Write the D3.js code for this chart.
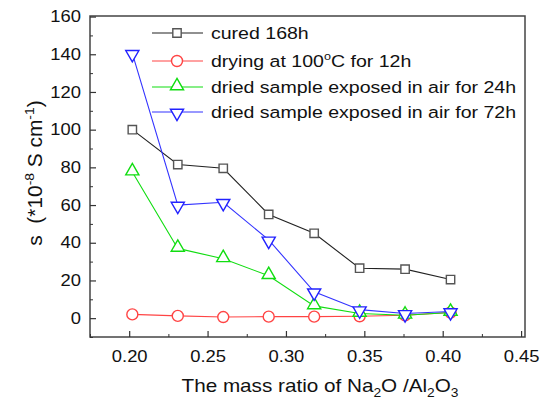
<!DOCTYPE html>
<html>
<head>
<meta charset="utf-8">
<script src="https://cdn.jsdelivr.net/npm/d3@7"></script>
<style>
  body { margin: 0; background: #fff; }
  text { font-family: "Liberation Sans", Arial, sans-serif; fill: #111; }
</style>
</head>
<body>
<div id="chart"></div>
<script>
// data
var ratio = [0.202, 0.231, 0.260, 0.289, 0.318, 0.347, 0.376, 0.405];
var cured168 = [100, 81.5, 79.5, 55, 45, 26.5, 26, 20.5];
var dried100 = [2, 1.2, 0.6, 0.8, 0.8, 1, 1.5, 3];
var exposed24 = [77.5, 37, 31.5, 22.5, 6.5, 2.5, 1.5, 3];
var exposed72 = [140.5, 60, 61.5, 41.5, 14, 4.5, 2.5, 3.5];
var xTicks = [0.20, 0.25, 0.30, 0.35, 0.40, 0.45];
var yTicks = [0, 20, 40, 60, 80, 100, 120, 140, 160];

var series = [
  {name: "cured 168h", values: cured168, color: "#222", mcolor: "#555", shape: "square"},
  {name: "drying at 100°C for 12h", values: dried100, color: "#ff4444", mcolor: "#ff4444", shape: "circle"},
  {name: "dried sample exposed in air for 24h", values: exposed24, color: "#11dd11", mcolor: "#11dd11", shape: "up"},
  {name: "dried sample exposed in air for 72h", values: exposed72, color: "#3333ff", mcolor: "#2222ff", shape: "down"}
];

// the original picture is a bit wider than tall, so text gets stretched sideways
var SX = 1.15;

var margin = {top: 16, right: 18, bottom: 66, left: 90},
    width = 543 - margin.left - margin.right,
    height = 403 - margin.top - margin.bottom;

var svg = d3.select("#chart")
  .append("svg")
    .attr("width", 543)
    .attr("height", 403)
  .append("g")
    .attr("transform", "translate(" + margin.left + "," + margin.top + ")");

var x = d3.scaleLinear().domain([0.175, 0.4525]).range([0, width]);
var y = d3.scaleLinear().domain([-10, 160.3]).range([height, 0]);

// frame
svg.append("rect")
  .attr("width", width)
  .attr("height", height)
  .attr("fill", "none")
  .attr("stroke", "#444")
  .attr("stroke-width", 1.5);

// x axis, ticks inward
var xAxis = svg.append("g")
  .attr("transform", "translate(0," + height + ")")
  .call(d3.axisBottom(x).tickValues(xTicks).tickSizeInner(-6).tickSizeOuter(0).tickPadding(14)
    .tickFormat(d3.format(".2f")));
xAxis.select(".domain").remove();
xAxis.selectAll("text").style("font-size", "16px").attr("transform", "scale(" + SX + ",1)");
xAxis.selectAll("line").attr("stroke", "#333").attr("stroke-width", 1.2);
svg.append("g")
  .attr("transform", "translate(0," + height + ")")
  .call(d3.axisBottom(x).tickValues(xTicks.slice(0, -1).map(function(d) { return d + 0.025; }).concat([0.175]))
    .tickSizeInner(-3).tickSizeOuter(0).tickFormat(""))
  .call(function(g) { g.select(".domain").remove(); g.selectAll("line").attr("stroke", "#333"); });

// y axis, ticks inward
var yAxis = svg.append("g")
  .call(d3.axisLeft(y).tickValues(yTicks).tickSizeInner(-6).tickSizeOuter(0).tickPadding(9));
yAxis.select(".domain").remove();
yAxis.selectAll("text").style("font-size", "16px")
  .attr("x", -9 / SX).attr("transform", "scale(" + SX + ",1)");
yAxis.selectAll("line").attr("stroke", "#333").attr("stroke-width", 1.2);
svg.append("g")
  .call(d3.axisLeft(y).tickValues(yTicks.map(function(d) { return d - 10; }))
    .tickSizeInner(-3).tickSizeOuter(0).tickFormat(""))
  .call(function(g) { g.select(".domain").remove(); g.selectAll("line").attr("stroke", "#333"); });

// markers
var sym = {
  square: d3.symbol().type(d3.symbolSquare).size(70),
  circle: d3.symbol().type(d3.symbolCircle).size(95),
  up: d3.symbol().type(d3.symbolTriangle).size(75)
};
function drawMarker(g, shape, cx, cy, color) {
  var p = g.append("path")
    .attr("fill", "white")
    .attr("stroke", color)
    .attr("stroke-width", 1.4);
  if (shape === "down") {
    p.attr("d", sym.up()).attr("transform", "translate(" + cx + "," + (cy + 1) + ") rotate(180)");
  } else if (shape === "up") {
    p.attr("d", sym.up()).attr("transform", "translate(" + cx + "," + (cy - 1) + ")");
  } else {
    p.attr("d", sym[shape]()).attr("transform", "translate(" + cx + "," + cy + ")");
  }
}

var line = d3.line()
  .x(function(d, i) { return x(ratio[i]); })
  .y(function(d) { return y(d); });

series.forEach(function(s) {
  svg.append("path")
    .datum(s.values)
    .attr("fill", "none")
    .attr("stroke", s.color)
    .attr("stroke-width", 1.1)
    .attr("d", line);
  var g = svg.append("g");
  s.values.forEach(function(v, i) {
    drawMarker(g, s.shape, x(ratio[i]), y(v), s.mcolor);
  });
});

// legend
var legY = [17, 45, 71, 96];
series.forEach(function(s, i) {
  var lg = svg.append("g").attr("transform", "translate(62," + legY[i] + ")");
  lg.append("line").attr("x1", 0).attr("x2", 51).attr("stroke", s.color).attr("stroke-width", 1.1);
  drawMarker(lg, s.shape, 25, 0, s.mcolor);
  var t = lg.append("g").attr("transform", "translate(59,6) scale(" + SX + ",1)")
    .append("text").style("font-size", "17px");
  if (i === 1) {
    t.append("tspan").text("drying at 100");
    t.append("tspan").attr("dy", -7).style("font-size", "11px").text("o");
    t.append("tspan").attr("dy", 7).text("C for 12h");
  } else {
    t.text(s.name);
  }
});

// axis titles
var xt = svg.append("g")
  .attr("transform", "translate(230," + (height + 55) + ") scale(" + SX + ",1)")
  .append("text")
  .attr("text-anchor", "middle")
  .style("font-size", "18px");
xt.append("tspan").text("The mass ratio of Na");
xt.append("tspan").attr("dy", 5).style("font-size", "12px").text("2");
xt.append("tspan").attr("dy", -5).text("O /Al");
xt.append("tspan").attr("dy", 5).style("font-size", "12px").text("2");
xt.append("tspan").attr("dy", -5).text("O");
xt.append("tspan").attr("dy", 5).style("font-size", "12px").text("3");

var yt = svg.append("g")
  .attr("transform", "translate(-48,157) rotate(-90) scale(1.16,1.1)")
  .append("text")
  .attr("text-anchor", "middle")
  .attr("xml:space", "preserve")
  .style("font-size", "18px");
yt.append("tspan").text("s  (*10");
yt.append("tspan").attr("dy", -7).style("font-size", "12px").text("-8");
yt.append("tspan").attr("dy", 7).text(" S cm");
yt.append("tspan").attr("dy", -7).style("font-size", "12px").text("-1");
yt.append("tspan").attr("dy", 7).text(")");
</script>
</body>
</html>
